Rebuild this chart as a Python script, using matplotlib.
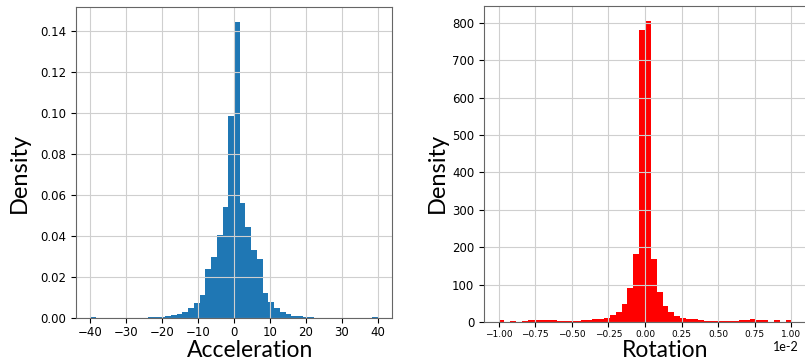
import numpy as np
import matplotlib
matplotlib.use("Agg")
import matplotlib.pyplot as plt

# densidad por bin, 50 bins entre -40 y 40
acc_range = (-40, 40)
acc_density = [
    0.0005, 0.00005, 0.00005, 0.00005, 0.00005, 0.0001, 0.0001, 0.0001, 0.00015, 0.0002,
    0.0003, 0.0004, 0.0007, 0.0010, 0.0015, 0.0019, 0.0031, 0.0049, 0.0073, 0.0114,
    0.0238, 0.0300, 0.0407, 0.0540, 0.0988, 0.1447, 0.0561, 0.0443, 0.0333, 0.0290,
    0.0122, 0.0078, 0.0049, 0.0029, 0.0018, 0.0011, 0.0008, 0.0005, 0.0003, 0.0002,
    0.00015, 0.0001, 0.00005, 0.00005, 0.00005, 0.00005, 0.00005, 0.00005, 0.00005, 0.0005,
]

# densidad por bin, 50 bins entre -0.01 y 0.01
rot_range = (-0.01, 0.01)
rot_density = [
    5, 0, 4, 0, 4, 6, 6, 5, 5, 5,
    4, 4, 4, 4, 5, 6, 7, 9, 12, 18,
    28, 47, 92, 181, 780, 805, 169, 81, 43, 26,
    17, 12, 9, 7, 5, 4, 4, 3, 4, 4,
    4, 6, 5, 7, 6, 6, 0, 5, 0, 5,
]

label_font = ["Lato", "DejaVu Sans"]


def dibujar_hist(ax, rango, dens, color):
    edges = np.linspace(rango[0], rango[1], len(dens) + 1)
    centros = (edges[:-1] + edges[1:]) / 2
    ax.hist(centros, bins=edges, weights=dens, color=color)
    ax.grid(True, color="#cfcfcf", linewidth=0.8)
    for s in ax.spines.values():
        s.set_color("0.4")


fig = plt.figure(figsize=(8.05, 3.6), dpi=100)
ax1 = fig.add_axes([76 / 805, 1 - 318 / 360, 316 / 805, 311 / 360])
ax2 = fig.add_axes([484 / 805, 1 - 322 / 360, 322 / 805, 316 / 360])

dibujar_hist(ax1, acc_range, acc_density, "#1f77b4")
ax1.set_xticks(np.arange(-40, 41, 10))
ax1.tick_params(axis="x", labelsize=8.5, pad=2)
ax1.tick_params(axis="y", labelsize=8.5)

dibujar_hist(ax2, rot_range, rot_density, "red")
ax2.set_xticks(np.linspace(-0.01, 0.01, 9))
ax2.ticklabel_format(axis="x", style="sci", scilimits=(0, 0))
ax2.tick_params(axis="x", labelsize=6.5, pad=2)
ax2.tick_params(axis="y", labelsize=8.5)
# el 1e-2 va como texto aparte, mas abajo
ax2.xaxis.get_offset_text().set_visible(False)

fig.text(19 / 805, 1 - 173 / 360, "Density", rotation=90, ha="center", va="center",
         fontsize=17, family=label_font)
fig.text(437 / 805, 1 - 173 / 360, "Density", rotation=90, ha="center", va="center",
         fontsize=17, family=label_font)
fig.text(250 / 805, 1 - 357 / 360, "Acceleration", ha="center", va="baseline",
         fontsize=16.5, family=label_font)
fig.text(665 / 805, 1 - 357 / 360, "Rotation", ha="center", va="baseline",
         fontsize=16.5, family=label_font)
fig.text(786 / 805, 1 - 347 / 360, "1e-2", ha="center", va="center",
         fontsize=9, family=label_font)

fig.savefig("out.png", dpi=100)
plt.close(fig)
